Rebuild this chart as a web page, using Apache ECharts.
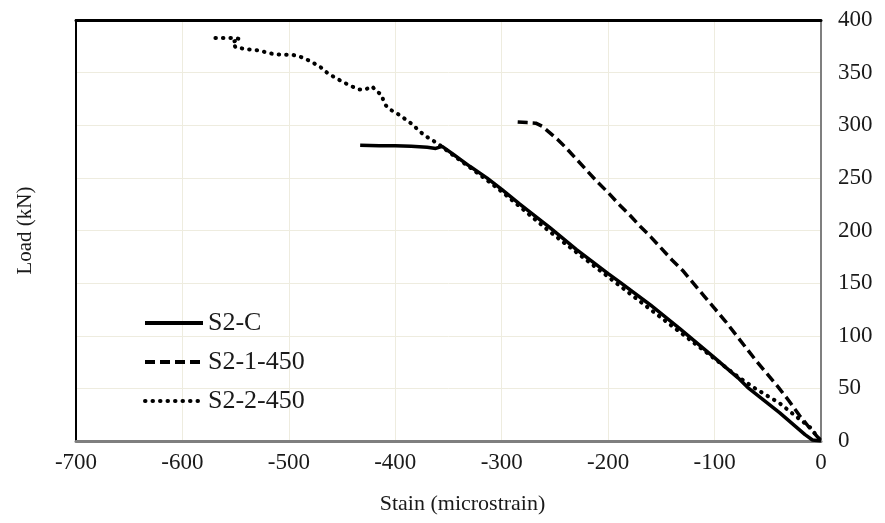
<!DOCTYPE html>
<html>
<head>
<meta charset="utf-8">
<script src="https://cdn.jsdelivr.net/npm/echarts@6/dist/echarts.min.js"></script>
<style>
  html, body { margin: 0; padding: 0; background: #fff; }
  #chart { width: 885px; height: 523px; }
</style>
</head>
<body>
<div id="chart"></div>
<script>
// strain (microstrain) / load (kN)
var scStrain = [-433, -415, -400, -385, -370, -362, -356, -345, -330, -314, -300, -283, -255, -230, -200, -189, -160, -133, -101, -78, -69, -39, -15, -8, 0];
var scLoad   = [281, 280.5, 280.5, 280, 279, 278, 280, 272, 261, 250, 239, 225, 203, 182, 159, 151, 129, 107, 80, 60, 51, 27, 6, 1, 0];

var s1Strain = [-285, -276, -268, -262, -255, -247, -240, -230, -220, -210, -200, -190, -180, -170, -160, -150, -140, -130, -120, -110, -100, -90, -80, -70, -60, -50, -40, -30, -20, -12, -6, 0];
var s1Load   = [303, 302.5, 302, 299, 293, 286, 279, 268, 257, 246, 236, 225, 215, 204, 194, 183, 172, 162, 150, 138, 126, 114, 101, 88, 75, 63, 51, 38, 24, 14, 7, 0];

var s2Strain = [-569, -557, -552, -546, -553, -550, -544, -538, -528, -516, -508, -497, -489, -480, -470, -463, -456, -449, -441, -434, -428, -422, -417, -413, -411, -409, -405, -398, -391, -384, -378, -372, -364, -358, -345, -330, -314, -300, -255, -200, -150, -101, -78, -62, -39, -23, -9, -5, 0];
var s2Load   = [383, 383, 383, 382, 379, 374, 373, 372, 371, 368, 367, 367, 365, 361, 355, 349, 345, 341, 337, 334, 334, 337, 332, 329, 323, 319, 315, 311, 306, 301, 295, 290, 285, 281, 271, 260, 248, 237, 199, 156, 117, 79, 61, 50, 36, 23, 12, 6, 0];

var seriesNames = ['S2-C', 'S2-1-450', 'S2-2-450'];

function pairs(xs, ys) {
  return xs.map(function (x, i) { return [x, ys[i]]; });
}

var font = 'Liberation Serif';
var txt = '#1a1a1a';
var gridColor = '#eeecdf';

var chart = echarts.init(document.getElementById('chart'));

var option = {
  animation: false,
  backgroundColor: '#fff',
  textStyle: { fontFamily: font },
  grid: { left: 76, right: 64, top: 20, bottom: 82 },
  legend: {
    orient: 'vertical',
    left: 138,
    top: 305,
    itemWidth: 58,
    itemHeight: 20,
    itemGap: 13,
    data: seriesNames,
    itemStyle: { opacity: 0 },
    lineStyle: { width: 4 },
    textStyle: { fontFamily: font, fontSize: 26, color: txt }
  },
  xAxis: [{
    type: 'value',
    min: -700, max: 0, interval: 100,
    name: 'Stain (microstrain)',
    nameLocation: 'middle',
    nameGap: 52,
    nameTextStyle: { fontFamily: font, fontSize: 22, color: txt, padding: [0, 0, 0, 28] },
    axisLine: { show: true, onZero: false, lineStyle: { color: '#7f7f7f', width: 3 } },
    axisTick: { show: false },
    axisLabel: { fontFamily: font, fontSize: 23, color: txt, margin: 10 },
    splitLine: { show: true, lineStyle: { color: gridColor, width: 1 } }
  }, {
    type: 'value',
    position: 'top',
    min: -700, max: 0,
    axisLine: { show: true, onZero: false, lineStyle: { color: '#000', width: 3 } },
    axisTick: { show: false },
    axisLabel: { show: false },
    splitLine: { show: false }
  }],
  yAxis: [{
    type: 'value',
    position: 'right',
    min: 0, max: 400, interval: 50,
    axisLine: { show: true, onZero: false, lineStyle: { color: '#7f7f7f', width: 2 } },
    axisTick: { show: false },
    axisLabel: { fontFamily: font, fontSize: 23, color: txt, margin: 17 },
    splitLine: { show: true, lineStyle: { color: gridColor, width: 1 } }
  }, {
    type: 'value',
    position: 'left',
    min: 0, max: 400,
    name: 'Load (kN)',
    nameLocation: 'middle',
    nameGap: 40,
    nameRotate: 90,
    nameTextStyle: { fontFamily: font, fontSize: 21, color: txt },
    axisLine: { show: true, onZero: false, lineStyle: { color: '#000', width: 2 } },
    axisTick: { show: false },
    axisLabel: { show: false },
    splitLine: { show: false }
  }],
  series: [{
    name: seriesNames[0],
    type: 'line',
    data: pairs(scStrain, scLoad),
    showSymbol: false,
    symbol: 'none',
    color: '#000',
    lineStyle: { color: '#000', width: 3.5, type: 'solid' }
  }, {
    name: seriesNames[1],
    type: 'line',
    data: pairs(s1Strain, s1Load),
    showSymbol: false,
    symbol: 'none',
    color: '#000',
    lineStyle: { color: '#000', width: 3.5, type: [10, 5] }
  }, {
    name: seriesNames[2],
    type: 'line',
    data: pairs(s2Strain, s2Load),
    showSymbol: false,
    symbol: 'none',
    color: '#000',
    lineStyle: { color: '#000', width: 4, type: [0.5, 7], cap: 'round' }
  }]
};

chart.setOption(option);
</script>
</body>
</html>
